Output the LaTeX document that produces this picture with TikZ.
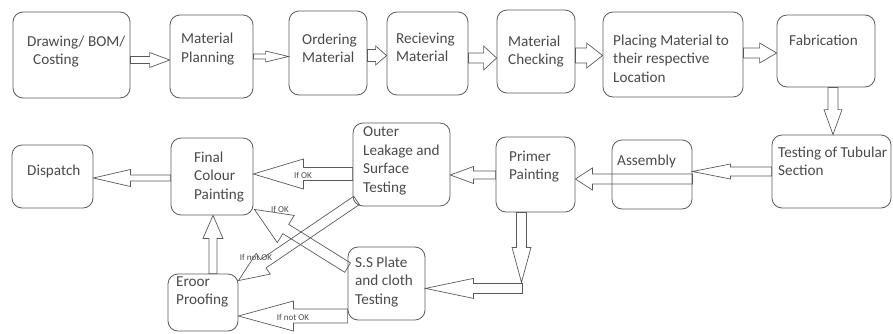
\documentclass[tikz,border=0pt]{standalone}
\usepackage{fontspec}
\setmainfont{Carlito}
\usetikzlibrary{calc}

\definecolor{edge}{HTML}{5A5A5A}
\definecolor{ink}{HTML}{4A4A4A}

\tikzset{
  box/.style={draw=edge, line width=0.8pt, rounded corners=10pt, inner sep=0pt},
  txt/.style={anchor=north west, inner sep=0pt, align=left, text=ink,
              font=\fontsize{15.2}{18.5}\selectfont},
  cond/.style={inner sep=0pt, text=ink, font=\fontsize{9}{10}\selectfont},
  flowline/.style={draw=edge, line width=0.7pt, line join=miter},
}

% hollow block arrow: from, to, half shaft, head length, half head
\newcommand{\flowarrow}[5]{%
  \coordinate (fa-base) at ($(#2)!#4!(#1)$);
  \draw[flowline] ($(#1)!#3!90:(#2)$) -- ($(fa-base)!#3!90:(#2)$)
    -- ($(fa-base)!#5!90:(#2)$) -- (#2) -- ($(fa-base)!#5!-90:(#2)$)
    -- ($(fa-base)!#3!-90:(#2)$) -- ($(#1)!#3!-90:(#2)$) -- cycle;
}

\begin{document}
\begin{tikzpicture}[x=1pt, y=-1pt]
  \useasboundingbox (0,0) rectangle (893,333);

  % ---- process boxes: name / left / top / right / bottom ----
  \foreach \n/\xa/\ya/\xb/\yb in {
      drawing/13/12/130/98, plan/170/15/253/98, order/289/11/367/95,
      recv/387/12/468/95, check/497/10/575/93, place/603/12/743/97,
      fab/777/15/875/87, tube/772/135/891/208, assy/612/140/692/209,
      primer/496/137/575/212, outer/353/123/450/206, final/171/138/253/215,
      dispatch/12/145/93/208, error/168/274/238/331, ssplate/348/247/425/320} {
    \node[box, minimum width={(\xb-\xa)*1pt}, minimum height={(\yb-\ya)*1pt}]
      (\n) at ({(\xa+\xb)/2},{(\ya+\yb)/2}) {};
  }

  % ---- box texts ----
  \foreach \n/\x/\y/\t in {
      drawing/27/35.5/{Drawing/ BOM/\\\hspace*{6pt}Costing},
      plan/181/33/{Material\\Planning},
      order/302/33.5/{Ordering\\Material},
      recv/396/32.5/{Recieving\\Material},
      check/508/35.5/{Material\\Checking},
      place/613/34.5/{Placing Material to\\their respective\\Location},
      fab/789/34.5/{Fabrication},
      tube/778/146.5/{Testing of Tubular\\Section},
      assy/617/154.5/{Assembly},
      primer/509/150.5/{Primer\\Painting},
      outer/363/126.5/{Outer\\Leakage and\\Surface\\Testing},
      final/194/151.5/{Final\\Colour\\Painting},
      dispatch/27/164.5/{Dispatch},
      error/176/276.5/{Eroor\\Proofing},
      ssplate/355/256.5/{S.S Plate\\and cloth\\Testing}} {
    \node[txt] (\n-t) at (\x,\y) {\t};
  }

  % ---- top row ----
  \coordinate (a1) at ($(drawing.east)+(0,5)$);
  \coordinate (a3) at ($(order.east)+(0,2.5)$);
  \coordinate (a4) at ($(recv.east)+(0,4.5)$);
  \coordinate (a5) at ($(check.east)+(0,4)$);
  \coordinate (a6) at ($(place.east)+(0,-1.5)$);
  \coordinate (a7) at ($(fab.south)+(7,0)$);
  \flowarrow{a1}{a1 -| plan.west}{3.5pt}{20pt}{7.5pt}
  \flowarrow{plan.east}{plan.east -| order.west}{2.5pt}{23pt}{5.5pt}
  \flowarrow{a3}{a3 -| recv.west}{6pt}{11pt}{9.5pt}
  \flowarrow{a4}{a4 -| check.west}{5pt}{13pt}{12pt}
  \flowarrow{a5}{a5 -| place.west}{7.5pt}{16pt}{12.5pt}
  \flowarrow{a6}{a6 -| fab.west}{5pt}{17pt}{10pt}
  \flowarrow{a7}{a7 |- tube.north}{5pt}{25pt}{9pt}

  % ---- bottom row, right to left ----
  \coordinate (b1) at ($(assy.east)+(0,4.5)$);
  \coordinate (b2) at ($(primer.west)+(0,0.5)$);
  \coordinate (b3) at ($(outer.west)+(0,9.5)$);
  \coordinate (b4) at ($(final.west)+(0,1.5)$);
  \flowarrow{tube.west}{tube.west -| assy.east}{4.5pt}{38pt}{7.5pt}
  \flowarrow{b1}{b1 -| primer.east}{5pt}{17pt}{11pt}
  \flowarrow{b2}{b2 -| outer.east}{4pt}{23pt}{8.5pt}
  \flowarrow{b3}{b3 -| final.east}{6.5pt}{50pt}{15pt}
  \flowarrow{b4}{b4 -| dispatch.east}{3pt}{37pt}{8.5pt}
  \node[cond] (ok1) at (303,175) {If OK};

  % ---- primer painting down to the plate test ----
  \coordinate (down) at ($(primer.south)+(-14,0)$);
  \coordinate (turn) at ($(primer.south)+(-14,70)$);
  \coordinate (back) at ($(turn)+(1,6)$);
  \flowarrow{down}{turn}{5pt}{35pt}{9.5pt}
  \flowarrow{back}{back -| ssplate.east}{5pt}{48pt}{10pt}

  % ---- test results ----
  \coordinate (c1) at ($(ssplate.west)+(0,32.5)$);
  \coordinate (c2) at ($(error.north)+(10,0)$);
  \coordinate (ssout) at ($(ssplate.north west)+(0,21)$);
  \coordinate (okin) at ($(final.south east)+(1,-6)$);
  \coordinate (outout) at ($(outer.south west)+(4,-6)$);
  \coordinate (nokin) at ($(error.north east)+(0,7)$);
  \flowarrow{c1}{c1 -| error.east}{7pt}{55pt}{15pt}
  \flowarrow{ssout}{okin}{5.5pt}{37pt}{16pt}
  \flowarrow{outout}{nokin}{5pt}{30pt}{12.5pt}
  \flowarrow{c2}{c2 |- final.south}{4pt}{23pt}{10pt}
  \node[cond] (nok1) at (293,317) {If not OK};
  \node[cond] (ok2) at (280,209) {If OK};
  \node[cond] (nok2) at (256,257) {If not OK};
\end{tikzpicture}
\end{document}
